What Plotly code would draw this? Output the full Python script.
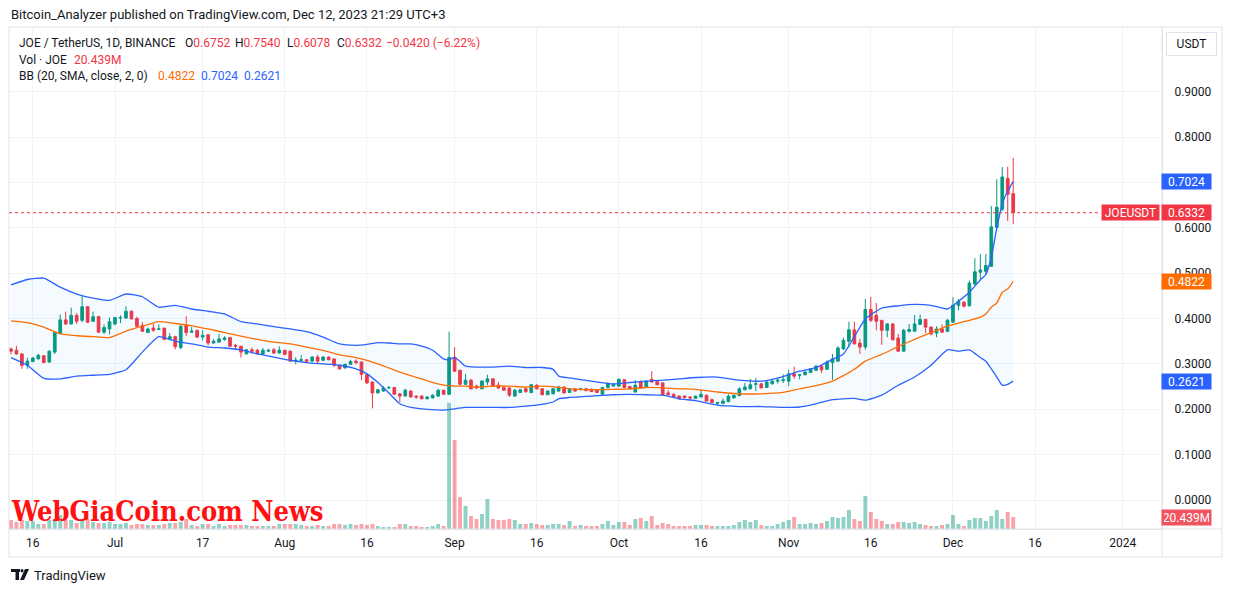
import pandas as pd
import plotly.graph_objects as go

# ---------------- data ----------------
dates = pd.date_range("2023-06-12", "2023-12-12", freq="D")

opens = [
    .333, .330, .322, .297, .305, .311, .318, .304, .326, .367, .397, .388, .407, .396, .426, .394, .404, .370, .377,
    .388, .401, .401, .416, .400, .385, .369, .379, .376, .379, .355, .360,
    .336, .385, .370, .374, .359, .364, .346, .348, .354, .358, .341, .339, .322, .331, .330, .322, .328, .331, .324,
    .330, .328, .306, .308, .309, .306, .315, .308, .315, .311, .297, .291, .299, .306, .304, .276, .260, .236, .240,
    .247, .248, .234, .229, .240, .229, .229, .223, .225, .229, .242, .233,
    .314, .286, .255, .264, .251, .245, .260, .267, .253, .248, .247, .229, .237, .245, .237, .253, .245, .232, .234,
    .240, .249, .237, .245, .243, .245, .244, .242, .233, .248, .251,
    .251, .265, .250, .238, .260, .248, .266, .261, .258, .236, .233, .229, .229, .227, .224, .227, .231, .221, .213,
    .213, .217, .225, .230, .243, .245, .255, .256, .248, .256, .262, .263,
    .262, .278, .275, .276, .281, .286, .295, .288, .303, .306, .333, .350, .375, .346, .337, .420, .407, .396, .374,
    .388, .357, .328, .372, .372, .387, .398, .381, .368, .377, .372,
    .392, .429, .436, .428, .476, .502, .504, .515, .601, .641, .709, .6752,
]
highs = [
    .336, .340, .324, .314, .315, .322, .319, .330, .369, .409, .415, .424, .412, .449, .427, .415, .406, .387, .402,
    .403, .407, .427, .418, .404, .392, .380, .388, .387, .379, .368, .362,
    .385, .405, .381, .375, .374, .366, .355, .366, .361, .358, .344, .339, .332, .336, .333, .335, .333, .335, .339,
    .331, .330, .315, .319, .310, .317, .320, .317, .317, .312, .297, .300, .309, .310, .306, .278, .262, .245, .251,
    .251, .249, .236, .245, .242, .231, .231, .229, .233, .245, .243, .371,
    .337, .287, .278, .267, .254, .264, .276, .268, .260, .249, .249, .245, .245, .249, .256, .255, .246, .242, .247,
    .252, .250, .247, .247, .247, .247, .246, .243, .249, .260, .258,
    .268, .266, .252, .264, .264, .264, .284, .263, .259, .243, .235, .230, .231, .229, .230, .243, .232, .224, .216,
    .224, .233, .232, .248, .258, .267, .269, .258, .262, .265, .268, .277,
    .287, .294, .277, .284, .290, .298, .297, .308, .322, .339, .358, .393, .393, .355, .443, .448, .434, .396, .390,
    .390, .366, .377, .388, .408, .409, .399, .383, .383, .387, .399,
    .447, .443, .438, .484, .533, .542, .542, .648, .707, .734, .735, .7540,
]
lows = [
    .321, .320, .289, .289, .304, .310, .303, .303, .322, .366, .386, .387, .388, .392, .390, .393, .368, .366, .365,
    .385, .390, .399, .399, .382, .371, .368, .371, .375, .352, .352, .332,
    .332, .361, .368, .358, .352, .341, .345, .347, .351, .337, .330, .314, .322, .322, .321, .320, .326, .322, .323,
    .319, .304, .299, .306, .303, .306, .300, .306, .308, .293, .287, .290, .298, .299, .264, .256, .202, .235, .239,
    .245, .232, .216, .229, .226, .223, .222, .222, .224, .227, .232, .232,
    .282, .253, .254, .244, .245, .245, .253, .249, .245, .240, .227, .228, .236, .236, .235, .244, .231, .231, .233,
    .239, .235, .236, .239, .242, .240, .238, .236, .232, .246, .250,
    .249, .247, .244, .237, .246, .247, .259, .253, .231, .231, .226, .222, .224, .221, .223, .226, .218, .213, .209,
    .211, .215, .224, .229, .242, .244, .240, .247, .248, .255, .257, .258,
    .251, .267, .266, .275, .280, .284, .280, .288, .265, .305, .331, .336, .343, .322, .331, .392, .374, .342, .359,
    .352, .328, .328, .369, .372, .386, .368, .363, .359, .368, .370,
    .390, .418, .425, .427, .473, .484, .498, .514, .599, .637, .615, .6078,
]
closes = [
    .328, .322, .297, .306, .313, .319, .303, .328, .369, .397, .388, .407, .394, .426, .392, .404, .370, .380, .393,
    .402, .402, .416, .399, .383, .372, .377, .374, .377, .354, .360, .338,
    .383, .369, .372, .359, .363, .346, .350, .355, .357, .339, .339, .326, .331, .328, .322, .330, .330, .324, .330,
    .321, .306, .308, .309, .306, .315, .306, .315, .309, .297, .289, .299, .305, .303, .277, .258, .236, .243, .247,
    .248, .233, .229, .242, .227, .227, .223, .227, .231, .242, .233, .314,
    .284, .255, .264, .245, .247, .262, .267, .251, .247, .242, .231, .242, .243, .239, .254, .245, .232, .240, .245,
    .249, .236, .245, .240, .245, .241, .239, .237, .248, .256, .255,
    .266, .248, .245, .253, .247, .262, .260, .254, .232, .232, .227, .223, .226, .225, .229, .233, .218, .215, .215,
    .218, .229, .231, .245, .249, .254, .256, .247, .260, .262, .264, .265,
    .278, .273, .276, .282, .289, .295, .287, .304, .311, .335, .352, .375, .344, .337, .420, .396, .394, .374, .388,
    .353, .328, .374, .376, .388, .398, .381, .366, .377, .370, .396,
    .429, .438, .427, .478, .503, .507, .517, .602, .645, .712, .674, .6332,
]
volumes_m = [
    15.3, 11.9, 15.3, 13.6, 13.6, 8.5, 8.5, 15.3, 15.3, 23.8, 15.3, 15.3, 10.2, 15.3, 17.0, 11.9, 10.2, 10.2, 11.9,
    8.5, 8.5, 10.2, 6.8, 8.5, 8.5, 6.8, 6.8, 6.8, 8.5, 10.2, 10.2,
    11.9, 17.0, 6.8, 5.1, 8.5, 8.5, 5.1, 8.5, 5.1, 6.8, 6.8, 6.8, 6.8, 5.1, 5.1, 5.1, 5.1, 5.1, 8.5,
    8.5, 8.5, 8.5, 6.8, 5.1, 5.1, 6.8, 5.1, 5.1, 8.5, 8.5, 6.8, 8.5, 6.8, 8.5, 6.8, 8.5, 5.1, 3.4,
    3.4, 3.4, 8.5, 8.5, 5.1, 5.1, 3.4, 3.4, 5.1, 8.5, 5.1, 214.0,
    151.0, 54.4, 39.1, 22.1, 17.0, 25.5, 51.0, 17.0, 15.3, 15.3, 17.0, 15.3, 8.5, 8.5, 10.2, 8.5, 6.8, 6.8, 8.5,
    8.5, 6.8, 13.6, 5.1, 6.8, 5.1, 5.1, 5.1, 8.5, 13.6, 6.8,
    11.9, 11.9, 6.8, 17.0, 18.7, 13.6, 22.1, 6.8, 10.2, 8.5, 5.1, 5.1, 5.1, 5.1, 6.8, 6.8, 6.8, 5.1, 5.1,
    5.1, 5.1, 6.8, 11.9, 15.3, 11.9, 15.3, 6.8, 5.1, 5.1, 8.5, 11.9,
    15.3, 20.4, 8.5, 8.5, 10.2, 8.5, 10.2, 13.6, 20.4, 18.7, 20.4, 32.3, 17.0, 13.6, 56.1, 28.9, 17.0, 13.6, 8.5,
    8.5, 11.9, 11.9, 10.2, 11.9, 8.5, 6.8, 5.1, 5.1, 6.8, 8.5,
    23.8, 8.5, 5.1, 15.3, 18.7, 18.7, 13.6, 22.1, 32.3, 17.0, 28.9, 20.439,
]

bb_dates = [
    "2023-06-12", "2023-06-15", "2023-06-18", "2023-06-21", "2023-06-24", "2023-06-27", "2023-06-30",
    "2023-07-03", "2023-07-06", "2023-07-09", "2023-07-12", "2023-07-15", "2023-07-18", "2023-07-21",
    "2023-07-24", "2023-07-27", "2023-07-30", "2023-08-02", "2023-08-05", "2023-08-08", "2023-08-11",
    "2023-08-14", "2023-08-16", "2023-08-18", "2023-08-20", "2023-08-22", "2023-08-24", "2023-08-26",
    "2023-08-28", "2023-08-30", "2023-08-31", "2023-09-01", "2023-09-03", "2023-09-05", "2023-09-08",
    "2023-09-11", "2023-09-14", "2023-09-17", "2023-09-19", "2023-09-20", "2023-09-22", "2023-09-26",
    "2023-09-30", "2023-10-03", "2023-10-06", "2023-10-09", "2023-10-12", "2023-10-15", "2023-10-19",
    "2023-10-23", "2023-10-27", "2023-10-31", "2023-11-03", "2023-11-06", "2023-11-09", "2023-11-11",
    "2023-11-13", "2023-11-15", "2023-11-18", "2023-11-21", "2023-11-24", "2023-11-27", "2023-11-30",
    "2023-12-02", "2023-12-04", "2023-12-06", "2023-12-07", "2023-12-08", "2023-12-09", "2023-12-10",
    "2023-12-11", "2023-12-12",
]
bb_upper = [
    .474, .486, .489, .469, .454, .445, .440, .454, .448, .425, .429,
    .421, .416, .410, .393, .388, .382, .377, .371, .359, .344,
    .341, .343, .347, .346, .344, .344, .339, .330, .311, .309, .315, .295, .293, .293, .295,
    .292, .292, .288, .273, .269, .262, .256, .259, .262, .264, .267,
    .270, .271, .264, .262, .272, .284, .292, .310, .322, .360,
    .399, .423, .428, .431, .429, .421, .438, .458, .485, .497, .535, .599, .653, .681, .7024,
]
bb_basis = [
    .395, .391, .381, .366, .362, .360, .358, .372, .383, .393, .389,
    .384, .377, .369, .361, .354, .348, .344, .337, .330, .320,
    .314, .308, .300, .291, .282, .274, .267, .259, .253, .252, .251, .251, .249, .251, .251,
    .249, .251, .250, .248, .245, .243, .244, .245, .248, .247, .245,
    .244, .238, .234, .234, .237, .245, .252, .262, .274, .288,
    .306, .321, .338, .354, .369, .383, .390, .396, .403, .410, .425, .434, .458, .465, .4822,
]
bb_lower = [
    .314, .297, .268, .267, .273, .275, .277, .287, .326, .360, .350,
    .344, .337, .335, .331, .322, .315, .308, .303, .300, .297,
    .289, .278, .259, .236, .212, .204, .201, .199, .198, .199, .201, .204, .204, .204, .204,
    .207, .211, .216, .223, .226, .229, .232, .233, .232, .231, .223,
    .219, .209, .206, .206, .204, .205, .212, .221, .223, .224,
    .220, .231, .253, .271, .297, .331, .328, .331, .314, .306, .289, .271, .253, .255, .2621,
]

tick_dates = ["2023-06-16", "2023-07-01", "2023-07-17", "2023-08-01", "2023-08-16", "2023-09-01",
              "2023-09-16", "2023-10-01", "2023-10-16", "2023-11-01", "2023-11-16", "2023-12-01",
              "2023-12-16", "2024-01-01"]
tick_labels = ["16", "Jul", "17", "Aug", "16", "Sep", "16", "Oct", "16", "Nov", "16", "Dec", "16", "2024"]
price_ticks = [0.0, 0.1, 0.2, 0.3, 0.4, 0.5, 0.6, 0.7, 0.8, 0.9]
# the 0.7000 label is hidden behind the upper-band tag in the reference
price_tick_text = ["0.0000", "0.1000", "0.2000", "0.3000", "0.4000", "0.5000", "0.6000", "", "0.8000", "0.9000"]

n = len(dates)
assert len(opens) == n and len(highs) == n and len(lows) == n and len(closes) == n and len(volumes_m) == n, \
    (n, len(opens), len(highs), len(lows), len(closes), len(volumes_m))
assert len(bb_dates) == len(bb_upper) == len(bb_basis) == len(bb_lower)

# ---------------- styling ----------------
UP = "#089981"
DOWN = "#F23645"
BLUE = "#2962FF"
ORANGE = "#FF6D00"
TXT = "#131722"
GRID = "#F0F3FA"
BORDER = "#E0E3EB"
FONT = "Roboto, 'Noto Sans', sans-serif"

W, H = 1233, 592
PL, PR, PT, PB = 9, 1162, 28, 529  # plot area in pixels


def px(x):
    return (x - PL) / (PR - PL)


def py(y):
    return (PB - y) / (PB - PT)


fig = go.Figure()

# Bollinger band fill + lines
fig.add_trace(go.Scatter(x=bb_dates, y=bb_upper, mode="lines",
                         line=dict(color=BLUE, width=1.3, shape="spline", smoothing=0.5), hoverinfo="skip"))
fig.add_trace(go.Scatter(x=bb_dates, y=bb_lower, mode="lines",
                         line=dict(color=BLUE, width=1.3, shape="spline", smoothing=0.5),
                         fill="tonexty", fillcolor="rgba(33,150,243,0.05)", hoverinfo="skip"))
fig.add_trace(go.Scatter(x=bb_dates, y=bb_basis, mode="lines",
                         line=dict(color=ORANGE, width=1.3, shape="spline", smoothing=0.5), hoverinfo="skip"))

# Volume
vol_colors = ["rgba(8,153,129,0.45)" if c >= o else "rgba(242,54,69,0.45)" for o, c in zip(opens, closes)]
fig.add_trace(go.Bar(x=dates, y=volumes_m, marker=dict(color=vol_colors, line=dict(width=0)),
                     width=0.72 * 86400000, yaxis="y2", hoverinfo="skip"))

# Candles
fig.add_trace(go.Candlestick(
    x=dates, open=opens, high=highs, low=lows, close=closes,
    increasing=dict(line=dict(color=UP, width=1), fillcolor=UP),
    decreasing=dict(line=dict(color=DOWN, width=1), fillcolor=DOWN),
    whiskerwidth=0,
))

y_top = (500 - PT) / 453.7
y_bot = (500 - PB) / 453.7

fig.update_layout(
    width=W, height=H,
    margin=dict(l=PL, r=W - PR, t=PT, b=H - PB),
    paper_bgcolor="white", plot_bgcolor="white",
    showlegend=False,
    font=dict(family=FONT, size=12, color=TXT),
    xaxis=dict(
        type="date",
        range=["2023-06-11 15:30", "2024-01-08 04:00"],
        tickvals=tick_dates, ticktext=tick_labels,
        showgrid=True, gridcolor=GRID, gridwidth=1,
        ticks="", showline=True, linecolor=BORDER, linewidth=1,
        tickfont=dict(size=12, color=TXT, family=FONT),
        rangeslider=dict(visible=False), ticklabelstandoff=3,
        zeroline=False, fixedrange=True,
    ),
    yaxis=dict(
        side="right", range=[y_bot, y_top],
        tickvals=price_ticks, ticktext=price_tick_text,
        showgrid=True, gridcolor=GRID, gridwidth=1,
        ticks="", showline=True, linecolor=BORDER, linewidth=1,
        zeroline=False, ticklabelstandoff=9,
        tickfont=dict(size=12, color=TXT, family=FONT),
    ),
    yaxis2=dict(overlaying="y", range=[0, 850], visible=False, fixedrange=True),
)

shapes = []
# outer frame
shapes.append(dict(type="rect", xref="paper", yref="paper", x0=px(9), x1=px(1222), y0=py(557), y1=py(27),
                   line=dict(color=BORDER, width=1), layer="above"))
shapes.append(dict(type="line", xref="paper", yref="paper", x0=px(1162), x1=px(1162), y0=py(557), y1=py(27),
                   line=dict(color=BORDER, width=1)))
shapes.append(dict(type="line", xref="paper", yref="paper", x0=px(9), x1=px(1222), y0=py(529), y1=py(529),
                   line=dict(color=BORDER, width=1)))
# last price dotted line
shapes.append(dict(type="line", xref="paper", yref="y", x0=0, x1=px(1101), y0=closes[-1], y1=closes[-1],
                   line=dict(color=DOWN, width=1, dash="dot")))
# TradingView logo glyph
shapes.append(dict(type="rect", xref="paper", yref="paper", x0=px(11), x1=px(20), y0=py(572), y1=py(569),
                   fillcolor=TXT, line=dict(width=0)))
shapes.append(dict(type="rect", xref="paper", yref="paper", x0=px(15.5), x1=px(19), y0=py(580), y1=py(569),
                   fillcolor=TXT, line=dict(width=0)))
shapes.append(dict(type="circle", xref="paper", yref="paper", x0=px(20.5), x1=px(23.5), y0=py(572.5), y1=py(569),
                   fillcolor=TXT, line=dict(width=0)))
shapes.append(dict(type="path", xref="paper", yref="paper",
                   path=f"M {px(20)} {py(580)} L {px(25)} {py(569)} L {px(29)} {py(569)} L {px(24)} {py(580)} Z",
                   fillcolor=TXT, line=dict(width=0)))
fig.update_layout(shapes=shapes)

ann = []


def text(x, y, s, color=TXT, size=12, anchor="left", **kw):
    ann.append(dict(xref="paper", yref="paper", x=px(x), y=py(y), text=s, showarrow=False,
                    xanchor=anchor, yanchor="middle", font=dict(size=size, color=color, family=FONT), **kw))


text(9, 15, "Bitcoin_Analyzer published on TradingView.com, Dec 12, 2023 21:29 UTC+3", size=13)
# legend rows
text(17, 43, "JOE / TetherUS, 1D, BINANCE")
text(183, 43, f"O<span style='color:{DOWN}'>{opens[-1]:.4f}</span>")
text(233, 43, f"H<span style='color:{DOWN}'>{highs[-1]:.4f}</span>")
text(285, 43, f"L<span style='color:{DOWN}'>{lows[-1]:.4f}</span>")
text(335, 43, f"C<span style='color:{DOWN}'>{closes[-1]:.4f}</span>")
text(384, 43, "−0.0420 (−6.22%)", color=DOWN)
text(17, 60, "Vol · JOE")
text(72, 60, f"{volumes_m[-1]:.3f}M", color=DOWN)
text(17, 76, "BB (20, SMA, close, 2, 0)")
text(156, 76, f"{bb_basis[-1]:.4f}", color=ORANGE)
text(199, 76, f"{bb_upper[-1]:.4f}", color=BLUE)
text(242, 76, f"{bb_lower[-1]:.4f}", color=BLUE)

# USDT box
ann.append(dict(xref="paper", yref="paper", x=px(1191.5), y=py(44.5), text="USDT", showarrow=False,
                xanchor="center", yanchor="middle", font=dict(size=12, color=TXT, family=FONT),
                bordercolor=BORDER, borderwidth=1, bgcolor="white", width=47, height=20, borderpad=1))


def price_tag(yval, label, bg, yref="y"):
    ann.append(dict(xref="paper", yref=yref, x=px(1161), y=yval, text=label, showarrow=False,
                    xanchor="left", yanchor="middle", font=dict(size=12, color="white", family=FONT),
                    bgcolor=bg, width=45, height=11, borderpad=2, align="center"))


price_tag(bb_upper[-1], f"{bb_upper[-1]:.4f}", BLUE)
price_tag(closes[-1], f"{closes[-1]:.4f}", DOWN)
price_tag(bb_basis[-1], f"{bb_basis[-1]:.4f}", ORANGE)
price_tag(bb_lower[-1], f"{bb_lower[-1]:.4f}", BLUE)
price_tag(py(517), f"{volumes_m[-1]:.3f}M", "#F0555F", yref="paper")
ann.append(dict(xref="paper", yref="y", x=px(1160), y=closes[-1], text="JOEUSDT", showarrow=False,
                xanchor="right", yanchor="middle", font=dict(size=12, color="white", family=FONT),
                bgcolor=DOWN, width=53, height=11, borderpad=2, align="center"))

# watermark
ann.append(dict(xref="paper", yref="paper", x=px(9), y=py(511), text="<b>WebGiaCoin.com News</b>",
                showarrow=False, xanchor="left", yanchor="middle",
                font=dict(size=27, color="#FF1111", family="'DejaVu Serif Condensed', 'DejaVu Serif', serif")))

# TradingView footer
text(32, 575, "TradingView", size=13)

fig.update_layout(annotations=ann)
fig.write_html("out.html", config={"displayModeBar": False},
               post_script="document.body.style.margin='0';document.body.style.padding='0';")
